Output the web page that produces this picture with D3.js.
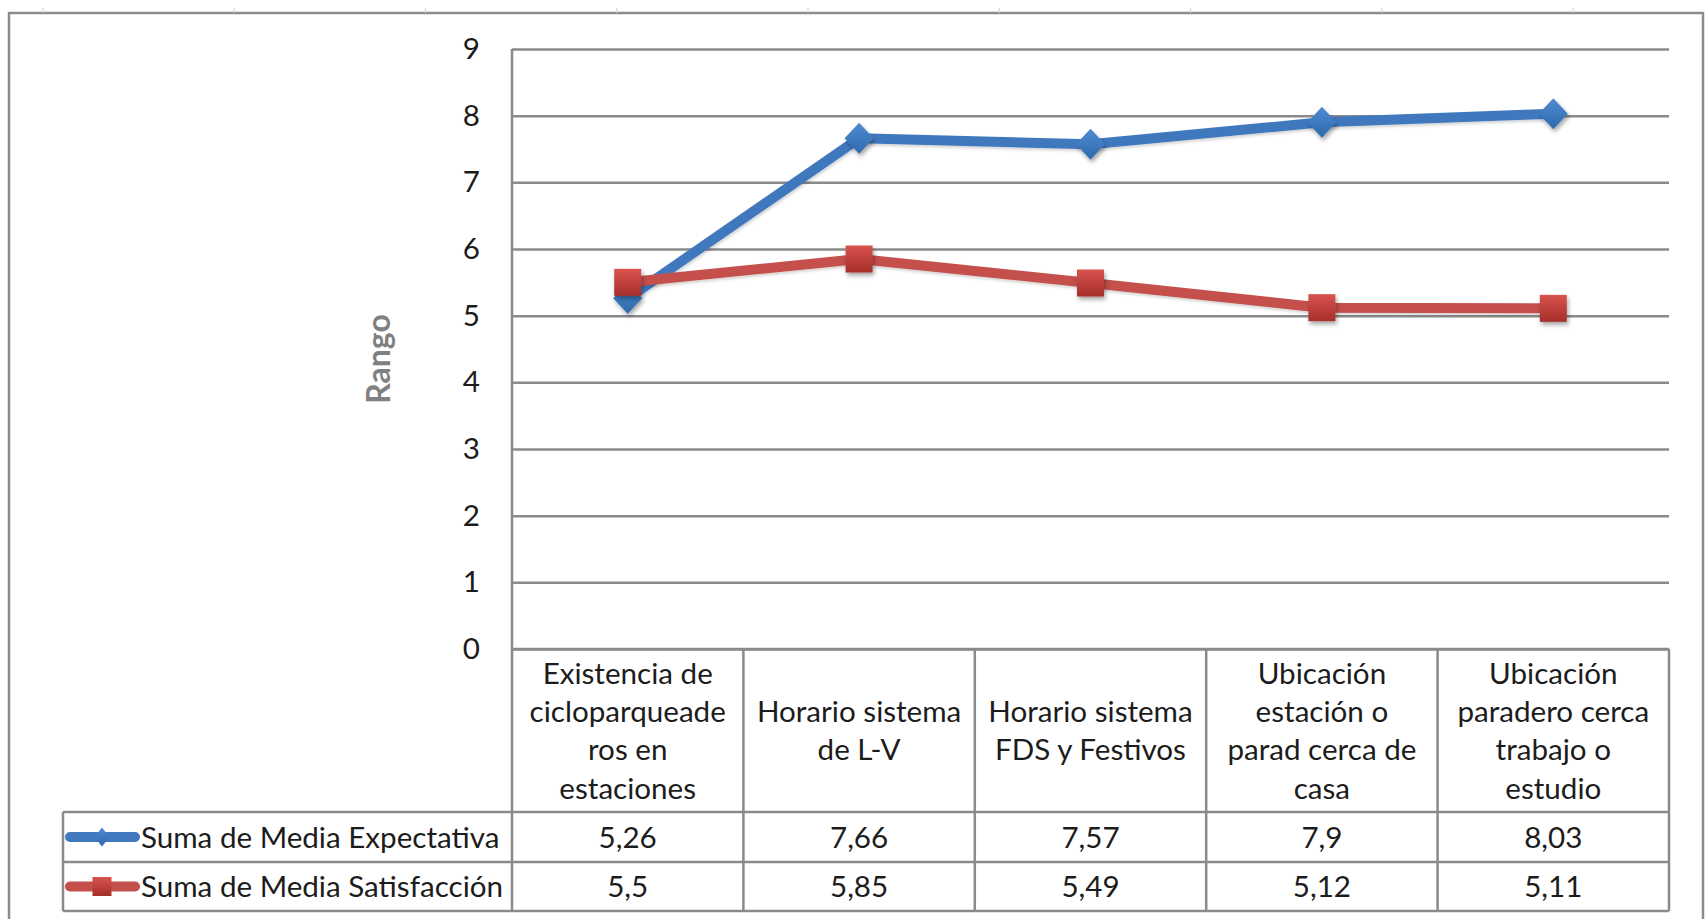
<!DOCTYPE html>
<html>
<head>
<meta charset="utf-8">
<script src="https://cdn.jsdelivr.net/npm/d3@7"></script>
<style>
  html, body { margin: 0; padding: 0; background: #fff; }
  svg { display: block; }
</style>
</head>
<body>
<svg id="chart" width="1705" height="919"></svg>
<script>
// Categories (each entry is the label split into its wrapped lines)
const categories = [
  ["Existencia de", "cicloparqueade", "ros en", "estaciones"],
  ["Horario sistema", "de L-V"],
  ["Horario sistema", "FDS y Festivos"],
  ["Ubicación", "estación o", "parad cerca de", "casa"],
  ["Ubicación", "paradero cerca", "trabajo o", "estudio"]
];
const seriesNames = ["Suma de Media Expectativa", "Suma de Media Satisfacción"];
const expectativa = [5.26, 7.66, 7.57, 7.9, 8.03];
const satisfaccion = [5.5, 5.85, 5.49, 5.12, 5.11];
const yTicks = [0, 1, 2, 3, 4, 5, 6, 7, 8, 9];
const yTitle = "Rango";

const W = 1705, H = 919;
const FONT = "Lato, 'Open Sans', sans-serif";
const FS = 29.6;
const GRID = "#8a8a8a";
const TEXT = "#1c1c1c";

const plot = { left: 512, right: 1669, top: 49, bottom: 649 };
const table = { headerBottom: 812, row1Bottom: 862, row2Bottom: 911, legendLeft: 63 };

const svg = d3.select("#chart");
const defs = svg.append("defs");

// soft shadow used under the markers and lines
const sh = defs.append("filter").attr("id", "shadow")
  .attr("x", "-50%").attr("y", "-50%").attr("width", "200%").attr("height", "200%");
sh.append("feDropShadow").attr("dx", 1.5).attr("dy", 3).attr("stdDeviation", 2.2)
  .attr("flood-color", "#000").attr("flood-opacity", 0.35);
const shl = defs.append("filter").attr("id", "lineShadow")
  .attr("x", "-10%").attr("y", "-50%").attr("width", "120%").attr("height", "200%");
shl.append("feDropShadow").attr("dx", 1).attr("dy", 2).attr("stdDeviation", 1.5)
  .attr("flood-color", "#000").attr("flood-opacity", 0.18);

function vGrad(id, top, bottom) {
  const g = defs.append("linearGradient").attr("id", id)
    .attr("x1", 0).attr("y1", 0).attr("x2", 0).attr("y2", 1);
  g.append("stop").attr("offset", "0%").attr("stop-color", top);
  g.append("stop").attr("offset", "100%").attr("stop-color", bottom);
}
vGrad("gBlue", "#4f8bd0", "#2e69ad");
vGrad("gRed", "#d9534e", "#a52f2a");

// outer chart frame
svg.append("rect")
  .attr("x", 9).attr("y", 13).attr("width", 1694).attr("height", 930)
  .attr("fill", "none").attr("stroke", "#8c8c8c").attr("stroke-width", 2.5);
// small cell marks above the frame
svg.append("g").selectAll("line")
  .data(d3.range(9))
  .join("line")
  .attr("x1", i => 43 + i * 191.25).attr("x2", i => 43 + i * 191.25)
  .attr("y1", 8).attr("y2", 13)
  .attr("stroke", "#d0d0d0").attr("stroke-width", 1);

// scales
const x = d3.scaleBand().domain(d3.range(categories.length))
  .range([plot.left, plot.right]).paddingInner(0).paddingOuter(0);
const y = d3.scaleLinear().domain([0, 9]).range([plot.bottom, plot.top]);
const cx = i => x(i) + x.bandwidth() / 2;

// y axis with gridlines
const yAxis = d3.axisLeft(y)
  .tickValues(yTicks)
  .tickSize(-(plot.right - plot.left))
  .tickPadding(32)
  .tickFormat(d3.format("d"));
const ga = svg.append("g").attr("transform", `translate(${plot.left},0)`).call(yAxis);
ga.select(".domain").remove();
ga.selectAll(".tick line").attr("stroke", GRID).attr("stroke-width", 2.5);
ga.selectAll(".tick text")
  .attr("font-family", FONT).attr("font-size", FS).attr("fill", TEXT);

// y axis title
svg.append("text")
  .attr("transform", "translate(378,359) rotate(-90)")
  .attr("text-anchor", "middle").attr("dy", "0.36em")
  .attr("font-family", FONT).attr("font-size", 32).attr("font-weight", "bold")
  .attr("fill", "#808080")
  .text(yTitle);

// data table grid
const tg = svg.append("g").attr("stroke", GRID).attr("stroke-width", 2.5).attr("fill", "none");
// column separators (first one doubles as the vertical axis)
tg.selectAll("line.col")
  .data(d3.range(categories.length + 1))
  .join("line")
  .attr("x1", i => plot.left + i * x.bandwidth())
  .attr("x2", i => plot.left + i * x.bandwidth())
  .attr("y1", i => (i === 0 ? plot.top : plot.bottom))
  .attr("y2", table.row2Bottom);
tg.append("line").attr("x1", plot.left).attr("x2", plot.right)
  .attr("y1", plot.bottom).attr("y2", plot.bottom);
[table.headerBottom, table.row1Bottom, table.row2Bottom].forEach(yy => {
  tg.append("line").attr("x1", table.legendLeft).attr("x2", plot.right)
    .attr("y1", yy).attr("y2", yy);
});
tg.append("line").attr("x1", table.legendLeft).attr("x2", table.legendLeft)
  .attr("y1", table.headerBottom).attr("y2", table.row2Bottom);

// category labels in the header row
const lineH = 38.4;
const headerMid = (plot.bottom + table.headerBottom) / 2;
const cat = svg.append("g").attr("font-family", FONT).attr("font-size", FS)
  .attr("fill", TEXT).attr("text-anchor", "middle");
categories.forEach((lines, i) => {
  const t = cat.append("text").attr("x", cx(i));
  lines.forEach((ln, k) => {
    t.append("tspan")
      .attr("x", cx(i))
      .attr("y", headerMid + (k - (lines.length - 1) / 2) * lineH)
      .attr("dy", "0.36em")
      .text(ln);
  });
});

// series
const series = [
  { name: seriesNames[0], values: expectativa, color: "#4178be", fill: "url(#gBlue)", shape: "diamond" },
  { name: seriesNames[1], values: satisfaccion, color: "#c4504c", fill: "url(#gRed)", shape: "square" }
];

function markerPath(shape, px, py, s) {
  if (shape === "diamond") {
    const hw = s.w / 2, hh = s.h / 2;
    return `M${px},${py - hh}L${px + hw},${py}L${px},${py + hh}L${px - hw},${py}Z`;
  }
  const hs = s.w / 2;
  return `M${px - hs},${py - hs}h${s.w}v${s.w}h${-s.w}Z`;
}

const line = d3.line().x((d, i) => cx(i)).y(d => y(d)).curve(d3.curveLinear);

series.forEach(s => {
  svg.append("path")
    .datum(s.values)
    .attr("d", line)
    .attr("fill", "none")
    .attr("stroke", s.color)
    .attr("stroke-width", 10)
    .attr("stroke-linejoin", "round")
    .attr("stroke-linecap", "round")
    .attr("filter", "url(#lineShadow)");
  const size = s.shape === "diamond" ? { w: 29, h: 31 } : { w: 27 };
  svg.append("g").selectAll("path")
    .data(s.values)
    .join("path")
    .attr("d", (d, i) => markerPath(s.shape, cx(i), y(d), size))
    .attr("fill", s.fill)
    .attr("filter", "url(#shadow)");
});

// value rows with legend keys
const rowBounds = [[table.headerBottom, table.row1Bottom], [table.row1Bottom, table.row2Bottom]];
const fmt = v => String(v).replace(".", ",");
series.forEach((s, r) => {
  const mid = (rowBounds[r][0] + rowBounds[r][1]) / 2;
  const g = svg.append("g");
  // legend key
  g.append("line")
    .attr("x1", 70).attr("x2", 135).attr("y1", mid).attr("y2", mid)
    .attr("stroke", s.color).attr("stroke-width", 10).attr("stroke-linecap", "round");
  const keySize = s.shape === "diamond" ? { w: 15, h: 19 } : { w: 19 };
  g.append("path")
    .attr("d", markerPath(s.shape, 102, mid, keySize))
    .attr("fill", s.fill);
  g.append("text")
    .attr("x", 141).attr("y", mid).attr("dy", "0.36em")
    .attr("font-family", FONT).attr("font-size", FS).attr("fill", TEXT)
    .text(s.name);
  g.selectAll("text.val")
    .data(s.values)
    .join("text")
    .attr("class", "val")
    .attr("x", (d, i) => cx(i)).attr("y", mid).attr("dy", "0.36em")
    .attr("text-anchor", "middle")
    .attr("font-family", FONT).attr("font-size", FS).attr("fill", TEXT)
    .text(d => fmt(d));
});
</script>
</body>
</html>
